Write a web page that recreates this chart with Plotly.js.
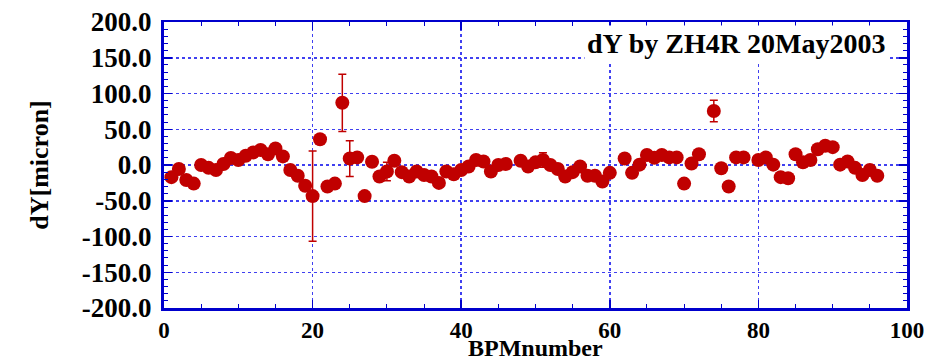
<!DOCTYPE html>
<html>
<head>
<meta charset="utf-8">
<script src="https://cdn.plot.ly/plotly-3.0.1.min.js"></script>
<style>html,body{margin:0;padding:0;background:#fff;}#chart{width:939px;height:362px;}</style>
</head>
<body>
<div id="chart"></div>
<script>
const bpm = [1,2,3,4,5,6,7,8,9,10,11,12,13,14,15,16,17,18,19,20,21,22,23,24,25,26,27,28,29,30,
  31,32,33,34,35,36,37,38,39,40,41,42,43,44,45,46,48,49,50,51,52,53,54,55,56,57,58,59,60,
  62,63,64,65,66,67,68,69,70,71,72,74,75,76,77,78,80,81,82,83,84,85,86,87,88,89,90,91,92,93,94,95,96];
const dY = [-17,-5.5,-21,-26,0,-4,-7,1.4,9.7,7,13,17.6,21,15,23,12,-7,-15,-29,-43.5,36,-30,-26,87,9,10.6,-43.5,4.6,-16,-9,
  6,-10,-16,-9,-14,-16,-25,-9,-13,-7,-2,7,5,-9,0,1.4,6,-2,3.7,7,0,-5.5,-16,-10,-2,-15,-15,-23,-11,
  9,-11,0.5,14,10,14,10.6,10.6,-26,2,15,75.5,-4.6,-30,10.6,10.6,7,10.6,0.5,-17,-18.5,15,3.7,7,22,27,25,0.5,5,-4,-14,-7,-15];
const dYerr = [0,0,0,0,0,0,0,0,0,0,0,0,0,0,0,0,0,0,0,63,0,0,0,40,25,0,0,0,0,13,
  0,0,0,0,0,0,0,0,0,0,0,0,0,0,0,0,0,0,0,10,0,0,0,0,0,0,0,0,0,
  0,0,0,0,0,0,0,0,0,0,0,15,0,0,0,0,0,0,0,0,0,0,0,0,0,0,0,0,0,0,0,0,0];
const yTicks = [-200,-150,-100,-50,0,50,100,150,200];
const xTicks = [0,20,40,60,80,100];
const titleText = "dY by ZH4R 20May2003";
const xTitle = "BPMnumber";
const yTitle = "dY[micron]";

const red = "#c00000";
const blue = "#0000cc";
const grid = "#4040f0";
const fam = "Liberation Serif, Times New Roman, serif";

const trace = {
  x: bpm, y: dY, type: "scatter", mode: "markers",
  marker: {color: red, size: 14, line: {width: 0}},
  error_y: {type: "data", array: dYerr, visible: true, color: red, thickness: 1.5, width: 4},
  hoverinfo: "none"
};

const layout = {
  width: 939, height: 362,
  margin: {l: 164, r: 32, t: 22, b: 54},
  paper_bgcolor: "#fff", plot_bgcolor: "#fff",
  showlegend: false,
  font: {family: fam, size: 24, color: "#000"},
  xaxis: {
    range: [0, 100], tickvals: xTicks, ticktext: xTicks.map(v => "<b>" + v + "</b>"),
    showgrid: true, gridcolor: grid, gridwidth: 1.5, griddash: "dot",
    zeroline: false, showline: true, linecolor: blue, linewidth: 2.5, mirror: "allticks",
    ticks: "inside", ticklen: 8, tickcolor: blue, tickwidth: 1.5,
    minor: {dtick: 5, ticks: "inside", ticklen: 4, tickcolor: blue, tickwidth: 1, showgrid: false},
    tickfont: {family: fam, size: 23, color: "#000"},
    fixedrange: true
  },
  yaxis: {
    range: [-200, 200], tickvals: yTicks, ticktext: yTicks.map(v => "<b>" + v.toFixed(1) + "</b>"),
    showgrid: true, gridcolor: grid, gridwidth: 1.5, griddash: "dot",
    zeroline: false, showline: true, linecolor: blue, linewidth: 3, mirror: "allticks",
    ticks: "inside", ticklen: 8, tickcolor: blue, tickwidth: 1.5,
    minor: {dtick: 10, ticks: "inside", ticklen: 4, tickcolor: blue, tickwidth: 1, showgrid: false},
    tickfont: {family: fam, size: 27, color: "#000"},
    ticklabelstandoff: 4,
    title: {text: "<b>" + yTitle + "</b>", font: {family: fam, size: 26, color: "#000"}, standoff: 26},
    fixedrange: true
  },
  annotations: [{
    text: "<b>" + titleText + "</b>", xref: "paper", yref: "paper",
    x: 0.974, y: 0.99, xanchor: "right", yanchor: "top", showarrow: false,
    bgcolor: "#fff", borderpad: 2,
    font: {family: fam, size: 28, color: "#000"}
  }, {
    text: "<b>" + xTitle + "</b>", xref: "paper", yref: "paper",
    x: 0.5, y: -0.188, xanchor: "center", yanchor: "bottom", showarrow: false,
    borderpad: 0,
    font: {family: fam, size: 24, color: "#000"}
  }]
};

Plotly.newPlot("chart", [trace], layout, {displayModeBar: false, staticPlot: true});
</script>
</body>
</html>
